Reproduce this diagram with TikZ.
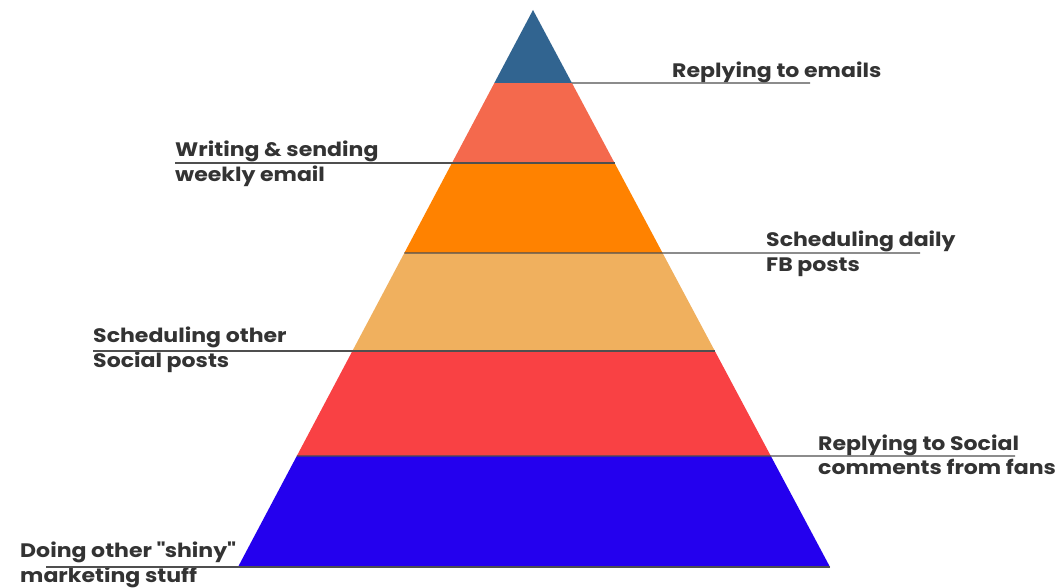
\documentclass[tikz,border=0pt]{standalone}
\usepackage{fontspec}
\setmainfont{Poppins}[FakeStretch=1.13]
\usetikzlibrary{calc}
\definecolor{tierA}{HTML}{316490}
\definecolor{tierB}{HTML}{F4694D}
\definecolor{tierC}{HTML}{FF8200}
\definecolor{tierD}{HTML}{F0B05E}
\definecolor{tierE}{HTML}{F94144}
\definecolor{tierF}{HTML}{2400EE}
\definecolor{ink}{HTML}{333333}
\definecolor{rule}{HTML}{4F4F4F}
\begin{document}
\begin{tikzpicture}[x=1pt,y=-1pt,
  lbl/.style={inner sep=0pt, text=ink, font=\fontsize{19.5}{24.5}\selectfont\bfseries, align=left},
  leader/.style={draw=rule, line width=1.1pt}]
\useasboundingbox (0,0) rectangle (1064,588);
\fill[white] (0,0) rectangle (1064,588);
% pyramid corners
\coordinate (A) at (533,10);
\coordinate (BL) at (238,567);
\coordinate (BR) at (830,567);
% tier boundaries along the two slanted sides
\foreach \n/\t in {1/0.1311,2/0.2747,3/0.4363,4/0.6122,5/0.8007,6/1}{
  \coordinate (L\n) at ($(A)!\t!(BL)$);
  \coordinate (R\n) at ($(A)!\t!(BR)$);
}
\fill[tierA] (A) -- (L1) -- (R1) -- cycle;
\fill[tierB] (L1) -- (L2) -- (R2) -- (R1) -- cycle;
\fill[tierC] (L2) -- (L3) -- (R3) -- (R2) -- cycle;
\fill[tierD] (L3) -- (L4) -- (R4) -- (R3) -- cycle;
\fill[tierE] (L4) -- (L5) -- (R5) -- (R4) -- cycle;
\fill[tierF] (L5) -- (L6) -- (R6) -- (R5) -- cycle;
% labels
\node[lbl, anchor=base west] (t1) at (672,78) {Replying to emails};
\node[lbl, anchor=west] (t2) at (175,164) {Writing \& sending\\weekly email};
\node[lbl, anchor=west] (t3) at (766,254) {Scheduling daily\\FB posts};
\node[lbl, anchor=west] (t4) at (93,350) {Scheduling other\\Social posts};
\node[lbl, anchor=west] (t5) at (818,455) {Replying to Social\\comments from fans};
\node[lbl, anchor=west] (t6) at (20,565) {Doing other \textquotedbl shiny\textquotedbl\\marketing stuff};
% leader line ends
\coordinate (e1) at (810,83);
\coordinate (e3) at (920,253);
\coordinate (e5) at (1015,456);
\coordinate (s6) at (46,567);
\draw[leader] (R1) -- (e1);
\draw[leader] (t2.west |- L2) -- (R2);
\draw[leader] (L3) -- (e3);
\draw[leader] (t4.west |- L4) -- (R4);
\draw[leader] (L5) -- (e5);
\draw[leader] (s6) -- (BR);
\end{tikzpicture}
\end{document}
